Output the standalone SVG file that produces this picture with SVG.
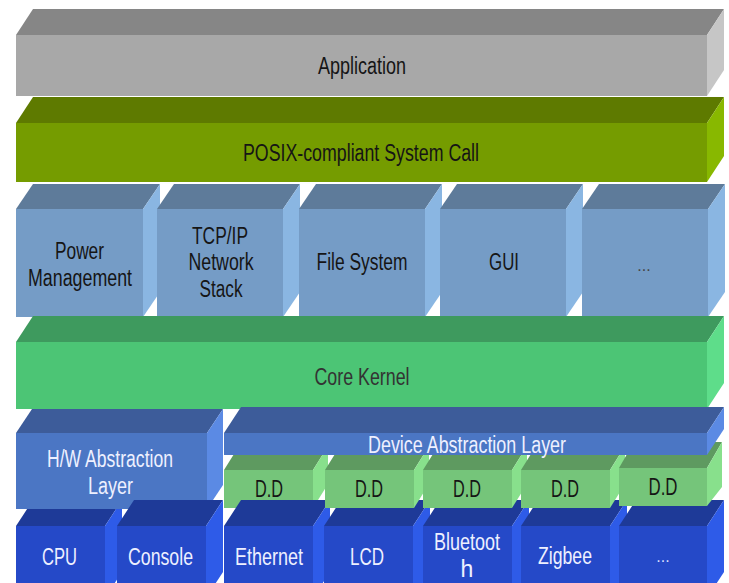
<svg xmlns="http://www.w3.org/2000/svg" width="729" height="583" viewBox="0 0 729 583">
<style>
text{font-family:"Liberation Sans Narrow","Liberation Sans",Arial,sans-serif;font-size:23px;text-anchor:middle}
.dk{fill:#151515}
.gy{fill:#333}
.wt{fill:#EEF0FF}
.dots{font-size:16px;fill:#444}
.dotsw{font-size:16px;fill:#D8DEFF}
.appF{fill:#A8A8A8}.appT{fill:#868686}.appS{fill:#C6C6C6}
.posF{fill:#759C00}.posT{fill:#5E7A00}.posS{fill:#88B800}
.svcF{fill:#759CC6}.svcT{fill:#5E7B9A}.svcS{fill:#8AB6E2}
.krF{fill:#4CC575}.krT{fill:#3E9A5E}.krS{fill:#5EDD8A}
.abF{fill:#4B76C4}.abT{fill:#3D5C9A}.abS{fill:#5B8AE4}
.ddF{fill:#75C57A}.ddT{fill:#5E9A60}.ddS{fill:#88E08C}
.hwF{fill:#2549C8}.hwT{fill:#1E3A98}.hwS{fill:#2E5BE8}
</style>
<rect width="729" height="583" fill="#FFFFFF"/>
<g id="connectors"/>

<g id="application">
<polygon class="appT" points="16,35 33,9 724,9 707,35"/>
<polygon class="appS" points="707,35 724,9 724,70 707,96"/>
<rect class="appF" x="16" y="35" width="691" height="61"/>
<text class="dk" x="362" y="74" textLength="88" lengthAdjust="spacingAndGlyphs">Application</text>
</g>

<g id="posix">
<polygon class="posT" points="16,123 33,97 724,97 707,123"/>
<polygon class="posS" points="707,123 724,97 724,156 707,182"/>
<rect class="posF" x="16" y="123" width="691" height="59"/>
<text class="dk" x="361" y="161" textLength="236" lengthAdjust="spacingAndGlyphs">POSIX-compliant System Call</text>
</g>

<g id="power-management">
<polygon class="svcT" points="16,209 33,184 160,184 143,209"/>
<polygon class="svcS" points="143,209 160,184 160,292 143,317"/>
<rect class="svcF" x="16" y="209" width="127" height="108"/>
<text class="dk" x="79.5" y="259" textLength="49" lengthAdjust="spacingAndGlyphs">Power</text>
<text class="dk" x="80" y="286" textLength="104" lengthAdjust="spacingAndGlyphs">Management</text>
</g>

<g id="tcpip">
<polygon class="svcT" points="157,209 174,184 300,184 283,209"/>
<polygon class="svcS" points="283,209 300,184 300,292 283,317"/>
<rect class="svcF" x="157" y="209" width="126" height="108"/>
<text class="dk" x="220" y="244" textLength="56" lengthAdjust="spacingAndGlyphs">TCP/IP</text>
<text class="dk" x="221" y="270" textLength="65" lengthAdjust="spacingAndGlyphs">Network</text>
<text class="dk" x="221" y="297" textLength="43" lengthAdjust="spacingAndGlyphs">Stack</text>
</g>

<g id="file-system">
<polygon class="svcT" points="299,209 316,184 442,184 425,209"/>
<polygon class="svcS" points="425,209 442,184 442,292 425,317"/>
<rect class="svcF" x="299" y="209" width="126" height="108"/>
<text class="dk" x="362" y="270" textLength="91" lengthAdjust="spacingAndGlyphs">File System</text>
</g>

<g id="gui">
<polygon class="svcT" points="440,209 457,184 583,184 566,209"/>
<polygon class="svcS" points="566,209 583,184 583,292 566,317"/>
<rect class="svcF" x="440" y="209" width="126" height="108"/>
<text class="dk" x="504" y="270" textLength="30" lengthAdjust="spacingAndGlyphs">GUI</text>
</g>

<g id="more-services">
<polygon class="svcT" points="582,209 599,184 725,184 708,209"/>
<polygon class="svcS" points="708,209 725,184 725,292 708,317"/>
<rect class="svcF" x="582" y="209" width="126" height="108"/>
<text class="dots" x="644" y="271">...</text>
</g>

<g id="core-kernel">
<polygon class="krT" points="16,342 33,316 724,316 707,342"/>
<polygon class="krS" points="707,342 724,316 724,383 707,409"/>
<rect class="krF" x="16" y="342" width="691" height="67"/>
<text class="gy" x="362" y="385" textLength="95" lengthAdjust="spacingAndGlyphs">Core Kernel</text>
</g>

<g id="cpu">
<polygon class="hwT" points="16,526 33,500 122,500 105,526"/>
<polygon class="hwS" points="105,526 122,500 122,572 105,598"/>
<rect class="hwF" x="16" y="526" width="89" height="72"/>
<text class="wt" x="59.5" y="565" textLength="35" lengthAdjust="spacingAndGlyphs">CPU</text>
</g>

<g id="hw-abstraction-layer">
<polygon class="abT" points="16,433 32,409 223,409 207,433"/>
<polygon class="abS" points="207,433 223,409 223,485 207,509"/>
<rect class="abF" x="16" y="433" width="191" height="76"/>
<text class="wt" x="110" y="467" textLength="126" lengthAdjust="spacingAndGlyphs">H/W Abstraction</text>
<text class="wt" x="110.5" y="494" textLength="45" lengthAdjust="spacingAndGlyphs">Layer</text>
</g>

<g id="console">
<polygon class="hwT" points="117,526 134,500 223,500 206,526"/>
<polygon class="hwS" points="206,526 223,500 223,572 206,598"/>
<rect class="hwF" x="117" y="526" width="89" height="72"/>
<text class="wt" x="160.5" y="565" textLength="65" lengthAdjust="spacingAndGlyphs">Console</text>
</g>

<g id="dd-1">
<polygon class="ddT" points="224,470 239,446 328,446 313,470"/>
<polygon class="ddS" points="313,470 328,446 328,484 313,508"/>
<rect class="ddF" x="224" y="470" width="89" height="38"/>
<text class="dk" x="269" y="497" textLength="28" lengthAdjust="spacingAndGlyphs">D.D</text>
</g>

<g id="ethernet">
<polygon class="hwT" points="224,526 241,500 330,500 313,526"/>
<polygon class="hwS" points="313,526 330,500 330,572 313,598"/>
<rect class="hwF" x="224" y="526" width="89" height="72"/>
<text class="wt" x="269" y="565" textLength="68" lengthAdjust="spacingAndGlyphs">Ethernet</text>
</g>

<g id="lcd">
<polygon class="hwT" points="324,526 341,500 430,500 413,526"/>
<polygon class="hwS" points="413,526 430,500 430,572 413,598"/>
<rect class="hwF" x="324" y="526" width="89" height="72"/>
<text class="wt" x="367" y="565" textLength="34" lengthAdjust="spacingAndGlyphs">LCD</text>
</g>

<g id="bluetooth">
<polygon class="hwT" points="423,526 440,500 529,500 512,526"/>
<polygon class="hwS" points="512,526 529,500 529,572 512,598"/>
<rect class="hwF" x="423" y="526" width="89" height="72"/>
<text class="wt" x="467" y="550" textLength="66" lengthAdjust="spacingAndGlyphs">Bluetoot</text>
<text class="wt" x="467" y="577">h</text>
</g>

<g id="zigbee">
<polygon class="hwT" points="521,526 538,500 627,500 610,526"/>
<polygon class="hwS" points="610,526 627,500 627,572 610,598"/>
<rect class="hwF" x="521" y="526" width="89" height="72"/>
<text class="wt" x="565" y="564" textLength="54" lengthAdjust="spacingAndGlyphs">Zigbee</text>
</g>

<g id="more-devices">
<polygon class="hwT" points="619,526 636,500 724,500 707,526"/>
<polygon class="hwS" points="707,526 724,500 724,572 707,598"/>
<rect class="hwF" x="619" y="526" width="88" height="72"/>
<text class="dotsw" x="663" y="562">...</text>
</g>

<g id="dd-2">
<polygon class="ddT" points="325,470 340,446 429,446 414,470"/>
<polygon class="ddS" points="414,470 429,446 429,484 414,508"/>
<rect class="ddF" x="325" y="470" width="89" height="38"/>
<text class="dk" x="369" y="497" textLength="28" lengthAdjust="spacingAndGlyphs">D.D</text>
</g>

<g id="dd-3">
<polygon class="ddT" points="423,470 438,446 527,446 512,470"/>
<polygon class="ddS" points="512,470 527,446 527,484 512,508"/>
<rect class="ddF" x="423" y="470" width="89" height="38"/>
<text class="dk" x="467" y="497" textLength="28" lengthAdjust="spacingAndGlyphs">D.D</text>
</g>

<g id="dd-4">
<polygon class="ddT" points="521,470 536,446 625,446 610,470"/>
<polygon class="ddS" points="610,470 625,446 625,484 610,508"/>
<rect class="ddF" x="521" y="470" width="89" height="38"/>
<text class="dk" x="565" y="497" textLength="28" lengthAdjust="spacingAndGlyphs">D.D</text>
</g>

<g id="dd-5">
<polygon class="ddT" points="619,468 634,442 722,442 707,468"/>
<polygon class="ddS" points="707,468 722,442 722,487 707,506"/>
<rect class="ddF" x="619" y="468" width="88" height="38"/>
<text class="dk" x="663" y="495" textLength="29" lengthAdjust="spacingAndGlyphs">D.D</text>
</g>

<g id="device-abstraction-layer">
<polygon class="abT" points="224,433 241,407 724,407 707,433"/>
<polygon class="abS" points="707,433 724,407 724,429 707,455"/>
<rect class="abF" x="224" y="433" width="483" height="22"/>
<text class="wt" x="467" y="453" textLength="198" lengthAdjust="spacingAndGlyphs">Device Abstraction Layer</text>
</g>
</svg>
